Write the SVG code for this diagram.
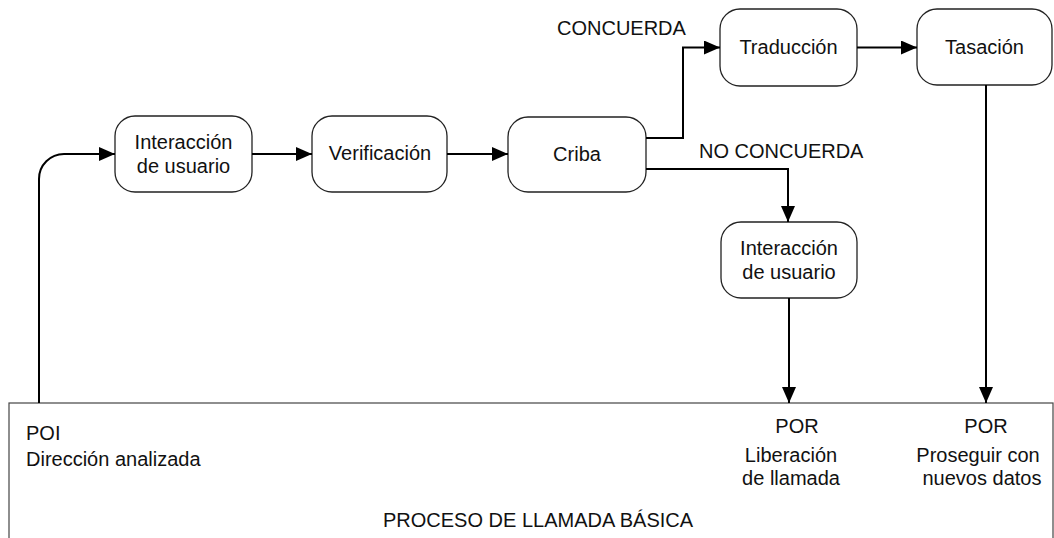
<svg xmlns="http://www.w3.org/2000/svg" width="1054" height="538" viewBox="0 0 1054 538">
<defs>
<marker id="arr" viewBox="0 0 16 14" refX="16" refY="7" markerWidth="16" markerHeight="14" markerUnits="userSpaceOnUse" orient="auto">
<path d="M0,0 L16,7 L0,14 Z" fill="#000"/>
</marker>
<style>
.box{fill:#fff;stroke:#222;stroke-width:1.3}
.frame{fill:#fff;stroke:#444;stroke-width:1.2}
.t{font-family:"Liberation Sans",Arial,sans-serif;font-size:20px;fill:#111}
.m{text-anchor:middle}
.c{fill:none;stroke:#000;stroke-width:2}
</style>
</defs>
<g id="proceso">
<rect class="frame" x="9" y="403" width="1044" height="150"/>
<text class="t" x="26" y="440">POI</text>
<text class="t" x="26" y="466">Dirección analizada</text>
<text class="t m" x="797" y="433">POR</text>
<text class="t m" x="791" y="462">Liberación</text>
<text class="t m" x="791" y="485">de llamada</text>
<text class="t m" x="986" y="433">POR</text>
<text class="t m" x="978" y="462">Proseguir con</text>
<text class="t m" x="982" y="485">nuevos datos</text>
<text class="t" x="383" y="527">PROCESO DE LLAMADA BÁSICA</text>
</g>
<g id="interaccion1">
<rect class="box" x="115" y="116" width="137" height="76" rx="20"/>
<text class="t m" x="183.5" y="149">Interacción</text>
<text class="t m" x="183.5" y="173">de usuario</text>
</g>
<g id="verificacion">
<rect class="box" x="312" y="116" width="135" height="76" rx="20"/>
<text class="t m" x="380" y="160">Verificación</text>
</g>
<g id="criba">
<rect class="box" x="508" y="117" width="138" height="75" rx="20"/>
<text class="t m" x="577" y="161">Criba</text>
</g>
<g id="traduccion">
<rect class="box" x="720" y="9" width="137" height="77" rx="20"/>
<text class="t m" x="788.5" y="54">Traducción</text>
</g>
<g id="tasacion">
<rect class="box" x="917" y="9" width="135" height="76" rx="20"/>
<text class="t m" x="984.5" y="54">Tasación</text>
</g>
<g id="interaccion2">
<rect class="box" x="721" y="222" width="136" height="76" rx="20"/>
<text class="t m" x="789" y="255">Interacción</text>
<text class="t m" x="789" y="279">de usuario</text>
</g>
<g id="labels">
<text class="t" x="557" y="35">CONCUERDA</text>
<text class="t" x="699" y="158">NO CONCUERDA</text>
</g>
<g id="connectors">
<path class="c" d="M39,403 L39,179 A25,25 0 0 1 64,154 L115,154" marker-end="url(#arr)"/>
<path class="c" d="M252,154 L312,154" marker-end="url(#arr)"/>
<path class="c" d="M447,154 L508,154" marker-end="url(#arr)"/>
<path class="c" d="M646,138 L683,138 L683,47.5 L720,47.5" marker-end="url(#arr)"/>
<path class="c" d="M646,169 L788,169 L788,222" marker-end="url(#arr)"/>
<path class="c" d="M857,47.5 L917,47.5" marker-end="url(#arr)"/>
<path class="c" d="M986,85 L986,403" marker-end="url(#arr)"/>
<path class="c" d="M789,298 L789,403" marker-end="url(#arr)"/>
</g>
</svg>
